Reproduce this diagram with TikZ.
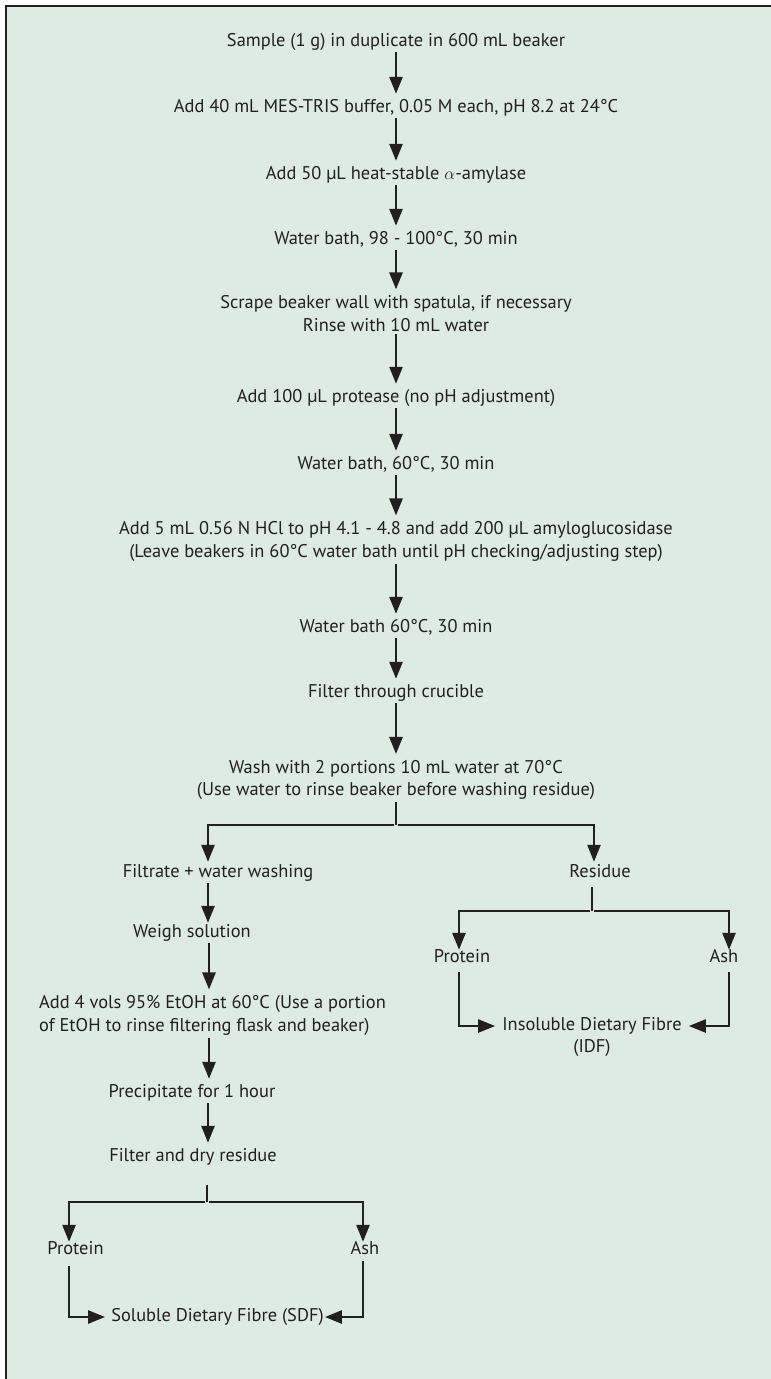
\documentclass[tikz,border=0pt]{standalone}
\usepackage{fontspec}
\setmainfont{PT Sans}
\usetikzlibrary{arrows.meta}
\definecolor{bg}{HTML}{DDEBE4}
\definecolor{ink}{HTML}{231F20}
\begin{document}
\begin{tikzpicture}[x=1pt,y=-1pt,
  lbl/.style={inner sep=0pt, text=ink, font=\fontsize{18.4}{22.5}\selectfont, text height=12pt, text depth=4pt},
  lblm/.style={inner sep=0pt, text=ink, font=\fontsize{18.4}{22.5}\selectfont, align=center},
  ln/.style={draw=ink, line width=2.6pt},
  arr/.style={draw=ink, line width=2.6pt, -{Triangle[length=17pt,width=13pt]}, shorten <=2pt, shorten >=6pt}]
\useasboundingbox (0,0) rectangle (771,1379);
\fill[white] (0,0) rectangle (771,1379);
\fill[bg] (6,6) rectangle (771,1379);
\draw[ink, line width=2.6pt] (6,1379) -- (6,6) -- (771,6);

% main column
\node[lbl] (t1) at (396,42) {Sample (1 g) in duplicate in 600 mL beaker};
\node[lbl] (t2) at (396,108) {Add 40 mL MES-TRIS buffer, 0.05 M each, pH 8.2 at 24°C};
\node[lbl] (t3) at (396,175) {Add 50 µL heat-stable $\alpha$-amylase};
\node[lbl] (t4) at (396,240) {Water bath, 98 - 100°C, 30 min};
\node[lblm] (t5) at (396,313.5) {Scrape beaker wall with spatula, if necessary\\Rinse with 10 mL water};
\node[lbl] (t6) at (396,398) {Add 100 µL protease (no pH adjustment)};
\node[lbl] (t7) at (396,465) {Water bath, 60°C, 30 min};
\node[lblm] (t8) at (396,541.5) {Add 5 mL 0.56 N HCl to pH 4.1 - 4.8 and add 200 µL amyloglucosidase\\(Leave beakers in 60°C water bath until pH checking/adjusting step)};
\node[lbl] (t9) at (396,628) {Water bath 60°C, 30 min};
\node[lbl] (t10) at (396,693) {Filter through crucible};
\node[lblm] (t11) at (396,780) {Wash with 2 portions 10 mL water at 70°C\\(Use water to rinse beaker before washing residue)};

\draw[arr] (t1.south) -- (t2.north);
\draw[arr] (t2.south) -- (t3.north);
\draw[arr] (t3.south) -- (t4.north);
\draw[arr] (t4.south) -- (t5.north);
\draw[arr] (t5.south) -- (t6.north);
\draw[arr] (t6.south) -- (t7.north);
\draw[arr] (t7.south) -- (t8.north);
\draw[arr] (t8.south) -- (t9.north);
\draw[arr] (t9.south) -- (t10.north);
\draw[arr] (t10.south) -- (t11.north);

% first split
\coordinate (sp) at (396,825);
\coordinate (spL) at (208,825);
\coordinate (spR) at (594,825);
\node[lbl] (filt) at (218,873) {Filtrate + water washing};
\node[lbl] (res) at (600,873) {Residue};
\draw[ln, shorten <=2pt] (t11.south) -- (sp);
\draw[arr, shorten >=3pt] (sp) -| (spL |- filt.north);
\draw[arr, shorten >=3pt] (sp) -| (spR |- res.north);

% left (soluble) branch
\coordinate (colL) at (209,0);
\node[lbl] (weigh) at (192,933) {Weigh solution};
\node[lblm, align=left, anchor=west] (add4) at (39,1015.5) {Add 4 vols 95\% EtOH at 60°C (Use a portion\\of EtOH to rinse filtering flask and beaker)};
\node[lbl] (prec) at (192,1093) {Precipitate for 1 hour};
\node[lbl] (fdr) at (193,1157) {Filter and dry residue};
\draw[arr, shorten >=2pt] (filt.south -| spL) -- (spL |- weigh.north);
\draw[arr] (weigh.south -| colL) -- (colL |- add4.north);
\draw[arr] (add4.south -| colL) -- (colL |- prec.north);
\draw[arr] (prec.south -| spL) -- (spL |- fdr.north);

\coordinate (sq) at (207,1202);
\coordinate (sqL) at (69,1202);
\coordinate (sqR) at (363,1202);
\node[lbl] (protL) at (75.5,1250) {Protein};
\node[lbl] (ashL) at (365,1250) {Ash};
\node[lbl] (sdf) at (217.5,1317) {Soluble Dietary Fibre (SDF)};
\draw[ln, shorten <=20pt] (fdr.south -| sq) -- (sq);
\draw[arr, shorten >=0pt] (sq) -| (sqL |- protL.north);
\draw[arr, shorten >=0pt] (sq) -| (sqR |- ashL.north);
\draw[arr, shorten <=8pt, shorten >=6pt] (protL.south -| sqL) |- (sdf.west);
\draw[arr, shorten <=3pt, shorten >=1pt] (ashL.south -| sqR) |- (sdf.east);

% right (insoluble) branch
\coordinate (rs) at (592,911);
\coordinate (rL) at (459,911);
\coordinate (rR) at (729,911);
\node[lbl] (protR) at (462,958) {Protein};
\node[lbl] (ashR) at (724,958) {Ash};
\node[lbl] (idf1) at (592,1026) {Insoluble Dietary Fibre};
\node[lbl] (idf2) at (592,1048) {(IDF)};
\draw[ln, shorten <=6pt] (res.south -| rs) -- (rs);
\draw[arr, shorten >=0pt] (rs) -| (rL |- protR.north);
\draw[arr, shorten >=0pt] (rs) -| (rR |- ashR.north);
\draw[arr, shorten <=6pt, shorten >=7pt] (protR.south -| rL) |- (idf1.west);
\draw[arr, shorten <=6pt, shorten >=7pt] (ashR.south -| rR) |- (idf1.east);
\end{tikzpicture}
\end{document}
